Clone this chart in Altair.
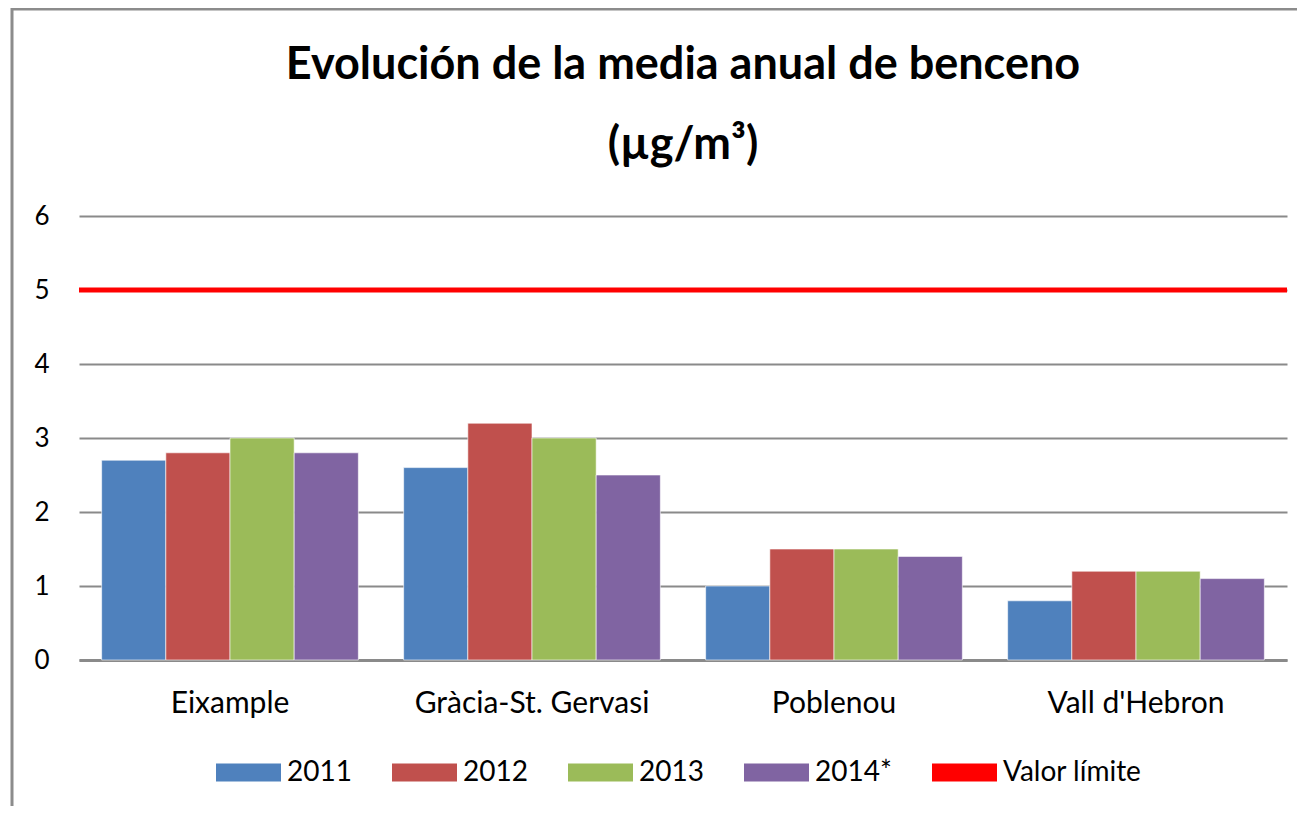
import altair as alt
import pandas as pd

stations = ["Eixample", "Gràcia-St. Gervasi", "Poblenou", "Vall d'Hebron"]
years = ["2011", "2012", "2013", "2014*"]
v2011 = [2.7, 2.6, 1.0, 0.8]
v2012 = [2.8, 3.2, 1.5, 1.2]
v2013 = [3.0, 3.0, 1.5, 1.2]
v2014 = [2.8, 2.5, 1.4, 1.1]
limit_label = "Valor límite"
limit_value = [5]

series = [v2011, v2012, v2013, v2014]
rows = []
for y, vals in zip(years, series):
    for s, v in zip(stations, vals):
        rows.append({"station": s, "year": y, "value": v})
df = pd.DataFrame(rows)
lim = pd.DataFrame({"value": limit_value, "year": [limit_label]})

FONT = "Lato"
color_scale = alt.Scale(
    domain=years + [limit_label],
    range=["#4F81BD", "#C0504D", "#9BBB59", "#8064A2", "#FF0000"],
)

# outer chart frame (decorative)
frame = alt.Chart(lim).mark_rect(
    fillOpacity=0, stroke="#8C8C8C", strokeWidth=3
).encode(
    x=alt.value(-67), x2=alt.value(1240),
    y=alt.value(-207), y2=alt.value(620),
)

bars = alt.Chart(df).mark_bar(stroke="white", strokeWidth=0.6).encode(
    x=alt.X("station:N", sort=stations, title=None,
            scale=alt.Scale(paddingInner=0.15, paddingOuter=0.075),
            axis=alt.Axis(labelAngle=0, labelFontSize=30, labelPadding=28,
                          labelLimit=400,
                          ticks=False, domainColor="#8A8A8A", domainWidth=3,
                          labelColor="black", labelFont=FONT)),
    xOffset=alt.XOffset("year:N", sort=years),
    y=alt.Y("value:Q", title=None,
            scale=alt.Scale(domain=[0, 6]),
            axis=alt.Axis(values=[0, 1, 2, 3, 4, 5, 6], format="d",
                          labelFontSize=26,
                          labelPadding=30, ticks=False, domain=False,
                          gridColor="#8A8A8A", gridWidth=2,
                          labelColor="black", labelFont=FONT)),
    color=alt.Color("year:N", scale=color_scale, title=None,
                    legend=alt.Legend(
                        orient="none", legendX=137, legendY=524,
                        direction="horizontal", gridAlign="none",
                        symbolType="M-1,-0.28L1,-0.28L1,0.28L-1,0.28Z",
                        symbolSize=4225, symbolStrokeWidth=0,
                        labelFontSize=28, labelFont=FONT, labelColor="black",
                        columnPadding=40, labelOffset=6, labelLimit=300)),
)

rule = alt.Chart(lim).mark_rule(color="#FF0000", strokeWidth=5).encode(
    y="value:Q",
    color=alt.Color("year:N", scale=color_scale, title=None),
)

chart = (frame + bars + rule).properties(
    width=1208,
    height=444,
    title=alt.TitleParams(
        text=["Evolución de la media anual de benceno", "(µg/m³)"],
        fontSize=45, fontWeight="bold", font=FONT, color="black",
        lineHeight=80, anchor="middle", offset=-160,
    ),
    padding={"left": 71, "top": 208, "right": 10, "bottom": 146},
    autosize=alt.AutoSizeParams(type="none"),
).configure(background="white").configure_view(stroke=None)

chart.save("out.html", embed_options={"renderer": "svg", "actions": False})
